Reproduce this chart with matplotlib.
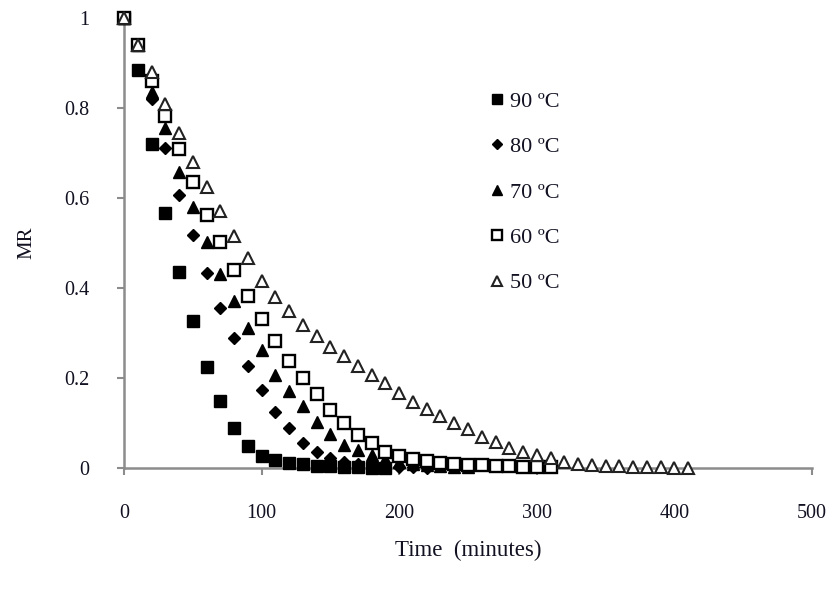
import matplotlib
matplotlib.use("Agg")
import matplotlib.pyplot as plt

plt.rcParams['font.family'] = ['Liberation Serif', 'DejaVu Serif']

# Time (minutes) and moisture ratio for each drying temperature
t90 = list(range(0, 200, 10))
mr90 = [1.0, 0.884, 0.72, 0.566, 0.436, 0.327, 0.224, 0.149, 0.089, 0.049,
        0.027, 0.017, 0.011, 0.008, 0.005, 0.004, 0.003, 0.002, 0.001, 0.001]

t80 = list(range(0, 230, 10))
mr80 = [1.0, 0.94, 0.82, 0.712, 0.606, 0.518, 0.433, 0.355, 0.289, 0.227,
        0.173, 0.125, 0.089, 0.056, 0.036, 0.022, 0.014, 0.009, 0.006, 0.004,
        0.003, 0.002, 0.001]

t70 = list(range(0, 260, 10))
mr70 = [1.0, 0.94, 0.835, 0.755, 0.658, 0.58, 0.502, 0.431, 0.371, 0.311,
        0.262, 0.207, 0.172, 0.138, 0.102, 0.076, 0.051, 0.04, 0.028, 0.02,
        0.014, 0.01, 0.007, 0.005, 0.003, 0.002]

t60 = list(range(0, 320, 10))
mr60 = [1.0, 0.94, 0.86, 0.782, 0.71, 0.635, 0.562, 0.502, 0.44, 0.382,
        0.331, 0.283, 0.238, 0.2, 0.164, 0.129, 0.1, 0.073, 0.056, 0.036,
        0.027, 0.02, 0.015, 0.011, 0.009, 0.007, 0.006, 0.005, 0.004, 0.003,
        0.002, 0.002]

t50 = list(range(0, 420, 10))
mr50 = [1.0, 0.94, 0.88, 0.81, 0.745, 0.68, 0.625, 0.571, 0.516, 0.467,
        0.416, 0.381, 0.35, 0.318, 0.294, 0.269, 0.25, 0.227, 0.207, 0.189,
        0.166, 0.147, 0.131, 0.115, 0.099, 0.086, 0.07, 0.057, 0.045, 0.036,
        0.028, 0.022, 0.013, 0.01, 0.007, 0.005, 0.004, 0.003, 0.002, 0.002,
        0.001, 0.001]

labels = ["90 \u00baC", "80 \u00baC", "70 \u00baC", "60 \u00baC", "50 \u00baC"]
xticks = [0, 100, 200, 300, 400, 500]
yticks = [0, 0.2, 0.4, 0.6, 0.8, 1]
yticklabels = ["0", "0.2", "0.4", "0.6", "0.8", "1"]

fig = plt.figure(figsize=(8.35, 5.89), dpi=100)
ax = fig.add_axes([124/835, 1 - 468/589, (812 - 124)/835, (468 - 18)/589])

ax.plot(t90, mr90, ls='none', marker='s', ms=8.5, mfc='black', mec='black', clip_on=False, label=labels[0], zorder=3)
ax.plot(t80, mr80, ls='none', marker='D', ms=6.2, mfc='black', mec='black', clip_on=False, label=labels[1], zorder=3)
ax.plot(t70, mr70, ls='none', marker='^', ms=8.5, mfc='black', mec='black', clip_on=False, label=labels[2], zorder=3)
ax.plot(t60, mr60, ls='none', marker='s', ms=8, mfc='white', mec='black', mew=1.7, clip_on=False, label=labels[3], zorder=3)
ax.plot(t50, mr50, ls='none', marker='^', ms=8, mfc='white', mec='#222222', mew=1.5, clip_on=False, label=labels[4], zorder=3)

ax.set_xlim(0, 500)
ax.set_ylim(0, 1)
ax.set_xticks(xticks)
ax.set_xticklabels([str(v) for v in xticks])
ax.set_yticks(yticks)
ax.set_yticklabels(yticklabels)

for s in ['top', 'right']:
    ax.spines[s].set_visible(False)
for s in ['left', 'bottom']:
    ax.spines[s].set_color('#8c8c8c')
    ax.spines[s].set_linewidth(1.8)
ax.tick_params(axis='both', direction='out', length=5, width=1.5, color='#8c8c8c',
               labelsize=14.5, labelcolor='#111122')
ax.tick_params(axis='x', pad=21)
ax.tick_params(axis='y', pad=20)

ax.set_xlabel("Time  (minutes)", fontsize=16.5, color='#111122', labelpad=12)
ax.set_ylabel("MR", fontsize=15, color='#111122', labelpad=20)

leg = ax.legend(loc='upper left', bbox_to_anchor=(480/835, 1 - 80/589), bbox_transform=fig.transFigure,
                frameon=False, fontsize=16, handlelength=0.55, handletextpad=0.3,
                labelspacing=1.12, borderpad=0, markerscale=0.85)
for txt in leg.get_texts():
    txt.set_color('#111122')

fig.savefig("out.png", dpi=100)
